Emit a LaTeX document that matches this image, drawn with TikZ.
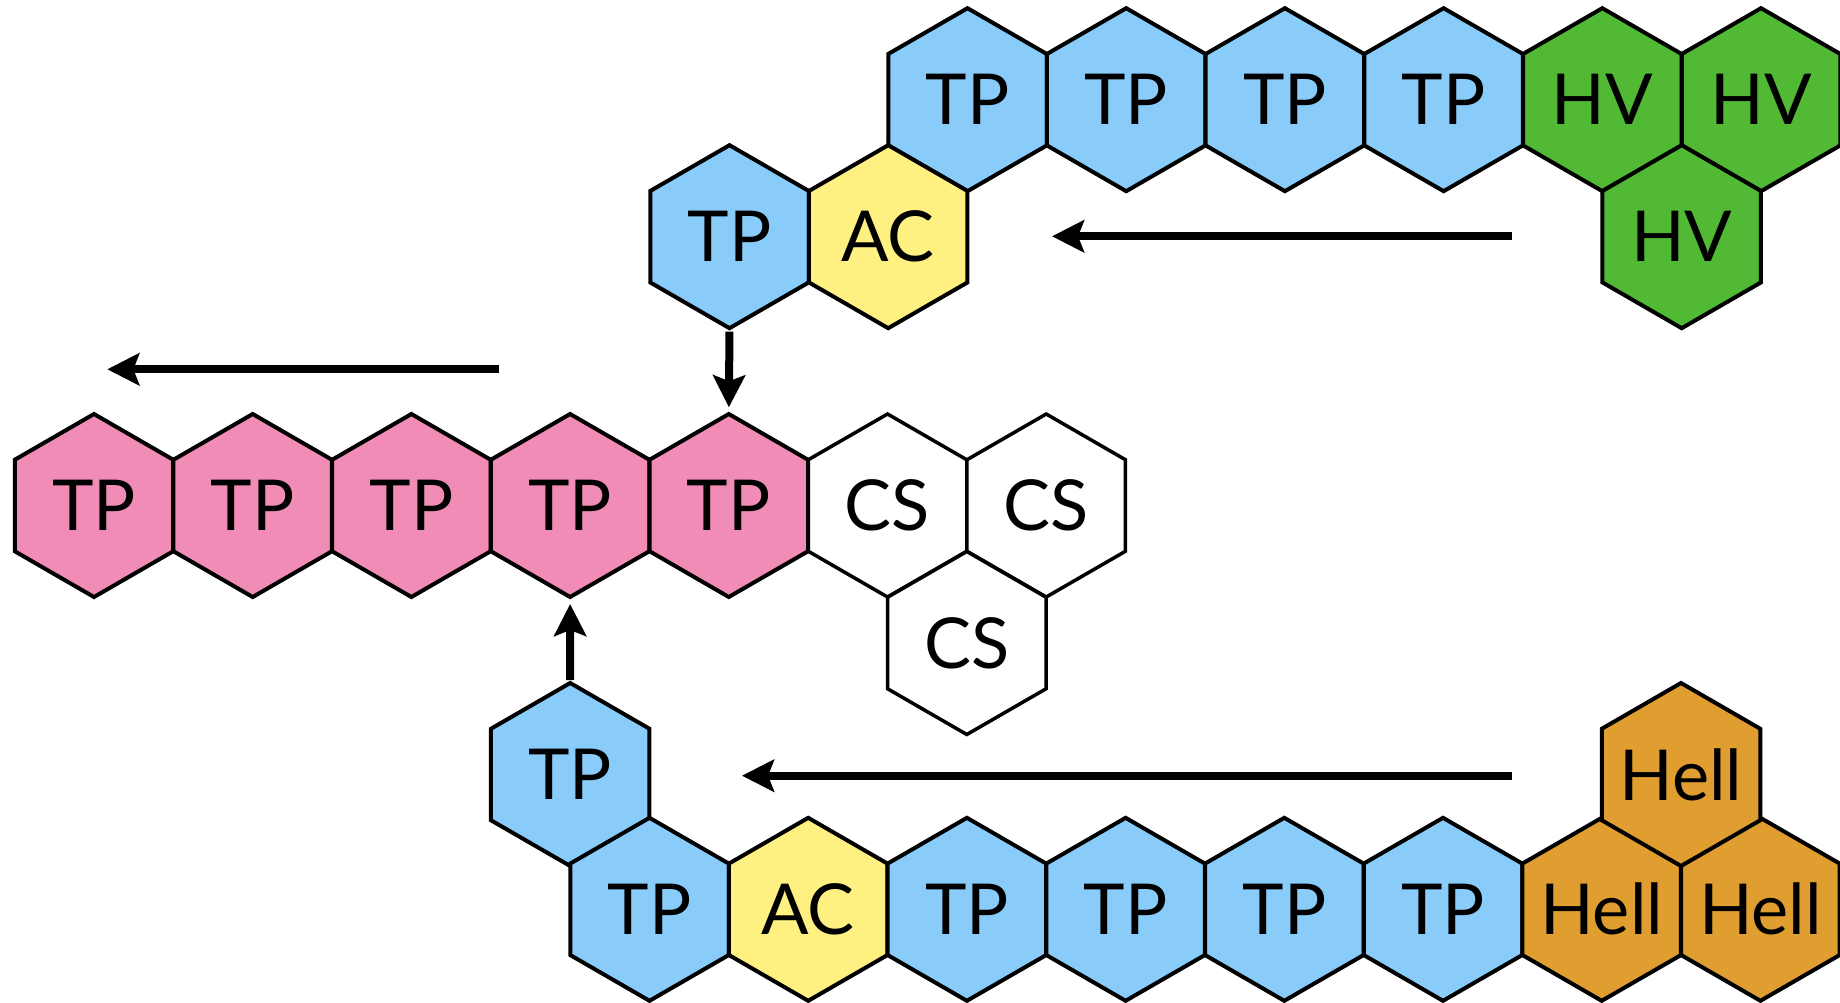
\documentclass[tikz,border=0pt]{standalone}
\usepackage{fontspec}
\setmainfont{Lato}
\usetikzlibrary{shapes.geometric,arrows.meta}

\definecolor{pinkhex}{RGB}{240,140,181}
\definecolor{bluehex}{RGB}{137,204,250}
\definecolor{yellowhex}{RGB}{255,240,130}
\definecolor{greenhex}{RGB}{82,185,52}
\definecolor{orangehex}{RGB}{224,158,48}

\begin{document}
\begin{tikzpicture}[
    hex/.style={draw, line width=0.04cm, regular polygon, regular polygon sides=6,
        shape border rotate=30, minimum size=1.83cm, inner sep=0pt, outer sep=0pt,
        font=\fontsize{20}{24}\selectfont},
    tp/.style={hex, fill=bluehex},
    ac/.style={hex, fill=yellowhex},
    hv/.style={hex, fill=greenhex},
    hell/.style={hex, fill=orangehex},
    pk/.style={hex, fill=pinkhex},
    cs/.style={hex, fill=white, line width=0.035cm},
    arr/.style={-{Stealth[length=0.32cm, width=0.32cm, inset=0.06cm]}, line width=0.08cm}
]
    \useasboundingbox (0,0) rectangle (18.4,-10.02);

    % top strand
    \node[tp] (tpA1) at (9.675,-0.997) {TP};
    \node[tp] (tpA2) at (11.262,-0.997) {TP};
    \node[tp] (tpA3) at (12.849,-0.997) {TP};
    \node[tp] (tpA4) at (14.436,-0.997) {TP};
    \node[hv] (hv1) at (16.023,-0.997) {HV};
    \node[hv] (hv2) at (17.61,-0.997) {HV};
    \node[hv] (hv3) at (16.817,-2.367) {HV};
    \node[tp] (tpA0) at (7.295,-2.367) {TP};
    \node[ac] (acA) at (8.882,-2.367) {AC};

    % middle strand
    \node[pk] (pk1) at (0.94,-5.055) {TP};
    \node[pk] (pk2) at (2.527,-5.055) {TP};
    \node[pk] (pk3) at (4.114,-5.055) {TP};
    \node[pk] (pk4) at (5.701,-5.055) {TP};
    \node[pk] (pk5) at (7.288,-5.055) {TP};
    \node[cs] (cs1) at (8.875,-5.055) {CS};
    \node[cs] (cs2) at (10.462,-5.055) {CS};
    \node[cs] (cs3) at (9.668,-6.43) {CS};

    % bottom strand
    \node[tp] (tpB0) at (5.702,-7.745) {TP};
    \node[tp] (tpB1) at (6.495,-9.093) {TP};
    \node[ac] (acB) at (8.082,-9.093) {AC};
    \node[tp] (tpB2) at (9.669,-9.093) {TP};
    \node[tp] (tpB3) at (11.256,-9.093) {TP};
    \node[tp] (tpB4) at (12.843,-9.093) {TP};
    \node[tp] (tpB5) at (14.43,-9.093) {TP};
    \node[hell] (hell1) at (16.017,-9.093) {\makebox[0pt]{Hell}};
    \node[hell] (hell2) at (17.604,-9.093) {\makebox[0pt]{Hell}};
    \node[hell] (hell3) at (16.81,-7.745) {\makebox[0pt]{Hell}};

    % arrows
    \coordinate (topR) at (15.12,-2.363);
    \coordinate (topL) at (10.52,-2.363);
    \coordinate (midR) at (4.993,-3.693);
    \coordinate (midL) at (1.073,-3.693);
    \coordinate (botR) at (15.12,-7.757);
    \coordinate (botL) at (7.42,-7.757);
    \draw[arr] (topR) -- (topL);
    \draw[arr] (midR) -- (midL);
    \draw[arr] (botR) -- (botL);
    \draw[arr, shorten <=0.035cm, shorten >=0.067cm] (tpA0.south) -- (pk5.north);
    \draw[arr, shorten <=0.03cm, shorten >=0.07cm] (tpB0.north) -- (pk4.south);
\end{tikzpicture}
\end{document}
